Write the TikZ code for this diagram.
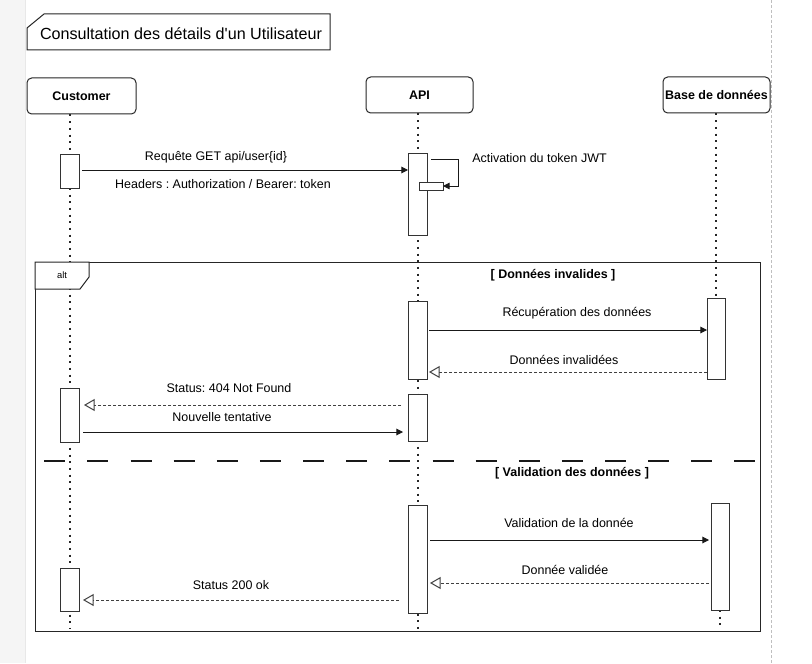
\documentclass[tikz,border=0pt]{standalone}
\usepackage{fontspec}
\newfontfamily\arialf{Liberation Sans}
\usetikzlibrary{arrows.meta}
\pgfdeclarelayer{bg}
\pgfsetlayers{bg,main}
\newcommand\pxbox[6]{%
  \node[#2, minimum width={(#5-#3)*0.75pt}, minimum height={(#6-#4)*0.75pt}] (#1) at ({(#3+#5)/2},{(#4+#6)/2}) {};}
\tikzset{
  head/.style={draw=black!85, rounded corners=3.5pt, line width=0.75pt, fill=white, inner sep=0,
    font=\arialf\bfseries\fontsize{9.35}{11}\selectfont},
  act/.style={draw=black!80, fill=white, line width=0.75pt, inner sep=0, outer sep=0},
  framebox/.style={draw=black!85, line width=0.75pt, inner sep=0, outer sep=0},
  life/.style={line width=1.5pt, dash pattern=on 1.5pt off 3.5pt, black!85},
  msg/.style={line width=0.75pt, black!90, -{Triangle[length=5pt,width=5pt]}},
  ret/.style={line width=0.75pt, dash pattern=on 2.25pt off 1.5pt, black!75, -{Triangle[open,length=8pt,width=9pt]}},
  lbl/.style={font=\arialf\fontsize{9.35}{11}\selectfont, inner sep=0},
  guard/.style={font=\arialf\bfseries\fontsize{9.35}{11}\selectfont, inner sep=0},
}
\begin{document}
\frenchspacing
\begin{tikzpicture}[x=0.75pt, y=-0.75pt]
\useasboundingbox (0,0) rectangle (812,663);
\begin{pgfonlayer}{bg}
\fill[white] (0,0) rectangle (812,663);
\fill[black!4] (0,0) rectangle (25,663);
\draw[black!9, line width=0.75pt] (25,0) -- (25,663);
\draw[black!25, line width=0.75pt, dash pattern=on 2.25pt off 1.5pt] (771,0) -- (771,663);
\end{pgfonlayer}

% title
\draw[black!85, line width=0.75pt] (44,14) -- (330,14) -- (330,50) -- (27,50) -- (27,28) -- cycle;
\node[lbl, font=\arialf\fontsize{12.1}{14}\selectfont] (title) at (181,34) {Consultation des détails d'un Utilisateur};

% heads
\node[head, minimum width={109*0.75pt}, minimum height={36*0.75pt}] (cust) at (81.5,96) {Customer};
\node[head, minimum width={107*0.75pt}, minimum height={36*0.75pt}] (api) at (419.5,95) {API};
\node[head, minimum width={107*0.75pt}, minimum height={36*0.75pt}] (db) at (716.5,95) {Base de données};

% alt frame
\pxbox{frame}{framebox}{35}{262}{760}{631}
\filldraw[draw=black!85, fill=white, line width=0.75pt] (frame.north west) -- (89,262) -- (89,277) -- (80,289) -- (35,289) -- cycle;
\node[lbl, font=\arialf\fontsize{7}{8}\selectfont] (alt) at (62,275) {alt};
\node[guard] (g1) at (553,275) {[ Données invalides ]};
\draw[black!90, line width=1.5pt, dash pattern=on 15.75pt off 16.6pt] (44.3,461) -- (757,461);
\node[guard] (g2) at (572,473) {[ Validation des données ]};

% activations
\pxbox{ca1}{act}{60}{154}{79}{188}
\pxbox{aa1}{act}{408}{153}{427}{235}
\pxbox{nest}{act}{419}{182}{443}{190}
\pxbox{aa2}{act}{408}{301}{427}{379}
\pxbox{da1}{act}{707}{298}{725}{379}
\pxbox{aa3}{act}{408}{394}{427}{441}
\pxbox{ca2}{act}{60}{388}{79}{442}
\pxbox{aa4}{act}{408}{505}{427}{613}
\pxbox{da2}{act}{711}{503}{729}{610}
\pxbox{ca3}{act}{60}{568}{79}{611}

% lifelines (behind)
\coordinate (xc) at (69.5,0);
\coordinate (xa) at (417.5,0);
\coordinate (xd) at (716,0);
\coordinate (xd2) at (720,0);
\coordinate (cbot) at (69.5,629);
\coordinate (abot) at (417.5,629);
\coordinate (dbot) at (720,630);
\begin{pgfonlayer}{bg}
\draw[life] (cust.south -| xc) -- (cbot);
\draw[life] (api.south -| xa) -- (abot);
\draw[life] (db.south -| xd) -- (da1.north -| xd);
\draw[life] (da2.south -| xd2) -- (dbot);
\end{pgfonlayer}

% message heights
\coordinate (m1) at (0,170);
\coordinate (s1) at (458,159);
\coordinate (s2) at (458,186);
\coordinate (m2) at (0,330);
\coordinate (r2) at (0,372);
\coordinate (r3) at (0,405);
\coordinate (m4) at (0,432);
\coordinate (m5) at (0,540);
\coordinate (r5) at (0,583);
\coordinate (r6) at (0,600);

% messages
\draw[msg, shorten <=2.25pt] (ca1.east |- m1) -- (aa1.west |- m1);
\node[lbl] (l1) at (216,157) {Requête GET api/user\{id\}};
\node[lbl] (l1b) at (223,184) {Headers : Authorization / Bearer: token};

\draw[msg, shorten <=3pt] (aa1.east |- s1) -- (s1) -- (s2) -- (nest.east);
\node[lbl, anchor=west] (ls) at (472,158) {Activation du token JWT};

\draw[msg, shorten <=1.5pt] (aa2.east |- m2) -- (da1.west |- m2);
\node[lbl] (l2) at (577,313) {Récupération des données};
\draw[ret, shorten >=1.5pt] (da1.west |- r2) -- (aa2.east |- r2);
\node[lbl] (l3) at (564,360) {Données invalidées};

\draw[ret, shorten <=5.25pt, shorten >=3.75pt] (aa3.west |- r3) -- (ca2.east |- r3);
\node[lbl] (l4) at (229,388) {Status: 404 Not Found};
\draw[msg, shorten <=3pt, shorten >=3.75pt] (ca2.east |- m4) -- (aa3.west |- m4);
\node[lbl] (l5) at (222,417) {Nouvelle tentative};

\draw[msg, shorten <=2.25pt, shorten >=1.5pt] (aa4.east |- m5) -- (da2.west |- m5);
\node[lbl] (l6) at (569,523) {Validation de la donnée};
\draw[ret, shorten <=1.5pt, shorten >=2.25pt] (da2.west |- r5) -- (aa4.east |- r5);
\node[lbl] (l7) at (565,570) {Donnée validée};

\draw[ret, shorten <=6.75pt, shorten >=3pt] (aa4.west |- r6) -- (ca3.east |- r6);
\node[lbl] (l8) at (231,585) {Status 200 ok};
\end{tikzpicture}
\end{document}
